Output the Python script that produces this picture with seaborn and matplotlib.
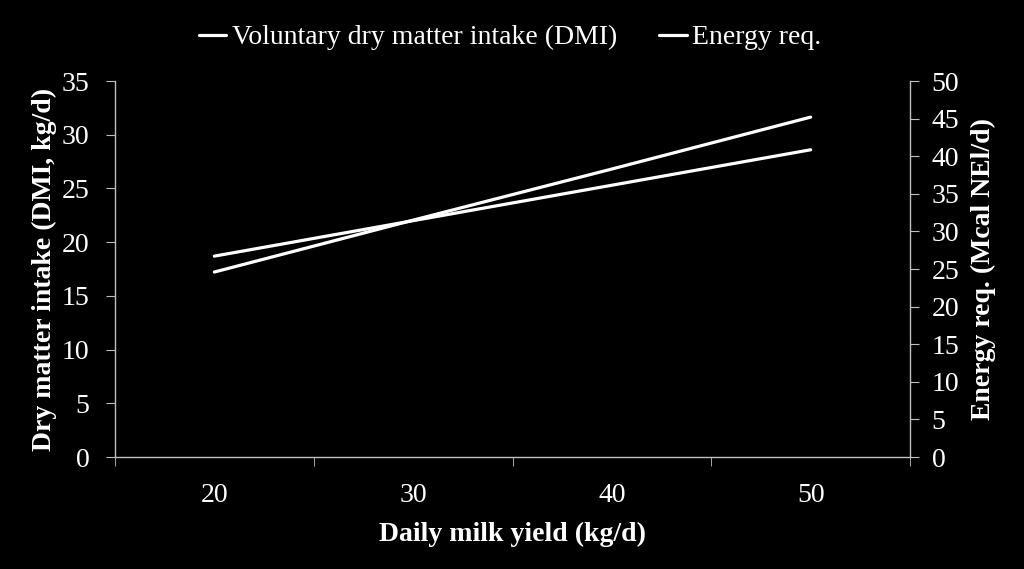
import matplotlib
matplotlib.use('Agg')
import matplotlib.pyplot as plt
import numpy as np
import pandas as pd
import seaborn as sns

# values
milk_yield = [20, 30, 40, 50]
dmi = [18.7, 22.0, 25.3, 28.6]
energy_req = [24.6, 31.5, 38.3, 45.2]

labels = ['Voluntary dry matter intake (DMI)', 'Energy req.']
x_label = 'Daily milk yield (kg/d)'
y_left_label = 'Dry matter intake (DMI, kg/d)'
y_right_label = 'Energy req. (Mcal NEl/d)'

sns.set_style('dark')
plt.rcParams['font.family'] = ['Liberation Serif', 'DejaVu Serif']

df_dmi = pd.DataFrame({'x': milk_yield, 'y': dmi})
df_en = pd.DataFrame({'x': milk_yield, 'y': energy_req})

fig = plt.figure(figsize=(10.24, 5.69), dpi=100, facecolor='black')
ax = fig.add_axes([0.1123, 0.1968, 0.7764, 0.6608])
ax2 = ax.twinx()

for a in (ax, ax2):
    a.set_facecolor('black')
    for s in a.spines.values():
        s.set_visible(False)
    a.grid(False)

sns.lineplot(data=df_dmi, x='x', y='y', ax=ax, color='white', linewidth=2.3, label=labels[0], legend=False)
sns.lineplot(data=df_en, x='x', y='y', ax=ax2, color='white', linewidth=2.3, label=labels[1], legend=False)

spine_col = '#bfbfbf'
ax.spines['left'].set_visible(True)
ax.spines['bottom'].set_visible(True)
ax2.spines['right'].set_visible(True)
for s in (ax.spines['left'], ax.spines['bottom'], ax2.spines['right']):
    s.set_color(spine_col)
    s.set_linewidth(1.0)

ax.set_xlim(15, 55)
ax.set_ylim(0, 35)
ax2.set_ylim(0, 50)

ax.set_xticks([20, 30, 40, 50])
ax.set_xticks([15, 25, 35, 45, 55], minor=True)
ax.tick_params(axis='x', which='major', length=0, pad=19, labelsize=20, colors='white')
ax.tick_params(axis='x', which='minor', length=6.5, color=spine_col, direction='out', bottom=True)
ax.set_yticks(np.arange(0, 36, 5))
ax.tick_params(axis='y', which='major', length=6.5, color=spine_col, labelcolor='white', labelsize=20,
               direction='out', left=True, pad=12)
ax2.set_yticks(np.arange(0, 51, 5))
ax2.tick_params(axis='y', which='major', length=6.5, color=spine_col, labelcolor='white', labelsize=20,
                direction='out', right=True, pad=9)

ax.set_xlabel(x_label, color='white', fontsize=20, fontweight='bold', labelpad=10)
ax.set_ylabel(y_left_label, color='white', fontsize=20, fontweight='bold', labelpad=3)
ax2.set_ylabel(y_right_label, color='white', fontsize=20, fontweight='bold', labelpad=8)

h1, l1 = ax.get_legend_handles_labels()
h2, l2 = ax2.get_legend_handles_labels()
leg = fig.legend(h1 + h2, l1 + l2, loc='upper center', bbox_to_anchor=(0.498, 1.0), ncol=2,
                 frameon=False, fontsize=20, handlelength=1.0, handletextpad=0.2, columnspacing=1.5)
for t in leg.get_texts():
    t.set_color('white')

fig.savefig('out.png', dpi=100, facecolor='black')
